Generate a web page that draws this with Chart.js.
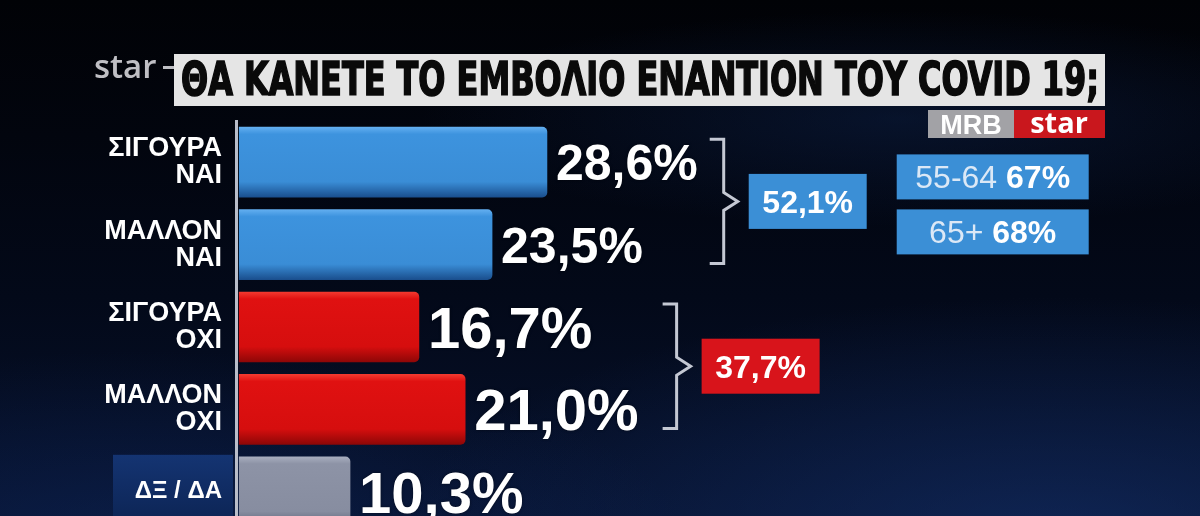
<!DOCTYPE html>
<html><head><meta charset="utf-8">
<script src="https://cdn.jsdelivr.net/npm/chart.js@4.4.1/dist/chart.umd.min.js"></script>
<style>
html,body{margin:0;padding:0;width:1200px;height:516px;overflow:hidden;background:#02040b;}
#wrap{position:relative;width:1200px;height:540px;
background:
 radial-gradient(ellipse 55% 45% at 88% 100%, rgba(22,52,115,0.55), rgba(0,0,0,0) 100%),
 radial-gradient(ellipse 45% 35% at 12% 100%, rgba(16,42,100,0.45), rgba(0,0,0,0) 100%),
 radial-gradient(ellipse 40% 20% at 75% 22%, rgba(14,36,80,0.45), rgba(0,0,0,0) 100%),
 linear-gradient(180deg, #010206 0%, #02050e 25%, #030919 55%, #071330 100%);}
canvas{display:block;}
</style></head>
<body><div id="wrap"><canvas id="c" width="1200" height="540"></canvas></div>
<script>
// ---- data ----
const title = 'ΘΑ ΚΑΝΕΤΕ ΤΟ ΕΜΒΟΛΙΟ ΕΝΑΝΤΙΟΝ ΤΟΥ COVID 19;';
const categories = [['ΣΙΓΟΥΡΑ','ΝΑΙ'], ['ΜΑΛΛΟΝ','ΝΑΙ'], ['ΣΙΓΟΥΡΑ','ΟΧΙ'], ['ΜΑΛΛΟΝ','ΟΧΙ'], 'ΔΞ / ΔΑ'];
const values = [28.6, 23.5, 16.7, 21.0, 10.3];
const groupMembers = [[0, 1], [2, 3]];
const groupTotals = [52.1, 37.7];
const ageLabels = ['55-64', '65+'];
const ageValues = [67, 68];

// ---- styles ----
const barKind = ['yes', 'yes', 'no', 'no', 'dk'];
const palettes = {
  yes: ['#62aef0', '#3d93de', '#3a8dd6', '#1a4f8e'],
  no:  ['#f2392f', '#e01111', '#d60e0e', '#8e0707'],
  dk:  ['#a8aebf', '#8d93a6', '#878da0', '#5a6075']
};
const groupBoxColor = ['#3b8fd6', '#d8141b'];
const labelSizes = [50, 50, 58, 58, 58];
const bracketGap = [26, 38];
const FONT = '"Liberation Sans", Arial, sans-serif';

function fmt(v){ return v.toFixed(1).replace('.', ',') + '%'; }

function barFill(c){
  const i = c.dataIndex;
  const pal = palettes[barKind[i]] || palettes.yes;
  const chart = c.chart, ys = chart.scales && chart.scales.y;
  if (i === undefined || !ys || !chart.chartArea) return pal[1];
  const mid = ys.getPixelForValue(i);
  const g = chart.ctx.createLinearGradient(0, mid - 35, 0, mid + 35);
  g.addColorStop(0, pal[0]); g.addColorStop(0.1, pal[1]);
  g.addColorStop(0.78, pal[2]); g.addColorStop(1, pal[3]);
  return g;
}

const decor = {
  id: 'decor',
  beforeDatasetsDraw(chart){
    const ctx = chart.ctx, ys = chart.scales.y;
    const last = values.length - 1;
    const m = ys.getPixelForValue(last);
    const g = ctx.createLinearGradient(0, m - 37, 0, m + 37);
    g.addColorStop(0, '#143472'); g.addColorStop(1, '#0c2352');
    ctx.save(); ctx.globalCompositeOperation = 'destination-over';
    ctx.fillStyle = g; ctx.fillRect(113, m - 37, 120, 80);
    ctx.restore();
  },
  afterDatasetsDraw(chart){
    const ctx = chart.ctx;
    const meta = chart.getDatasetMeta(0);
    const ends = [];
    ctx.save();
    meta.data.forEach((bar, i) => {
      const s = labelSizes[i];
      ctx.font = 'bold ' + s + 'px ' + FONT;
      ctx.fillStyle = '#ffffff'; ctx.textAlign = 'left'; ctx.textBaseline = 'alphabetic';
      ctx.shadowColor = 'rgba(0,0,0,0.5)'; ctx.shadowBlur = 3;
      const t = fmt(values[i]);
      ctx.fillText(t, bar.x + 9, bar.y + s * 0.358);
      ends[i] = bar.x + 9 + ctx.measureText(t).width;
    });
    ctx.shadowBlur = 0;
    let firstBoxRight = 0, firstApex = 0;
    groupMembers.forEach((mem, g) => {
      const b0 = meta.data[mem[0]], b1 = meta.data[mem[mem.length - 1]];
      const top = b0.y - b0.height / 2 + 12;
      const bot = b1.y + b1.height / 2 - 16;
      const x = Math.max(...mem.map(k => ends[k])) + bracketGap[g];
      const apex = (top + bot) / 2;
      ctx.strokeStyle = '#c4c8d3'; ctx.lineWidth = 3; ctx.lineJoin = 'miter';
      ctx.beginPath();
      ctx.moveTo(x - 14, top); ctx.lineTo(x, top); ctx.lineTo(x, apex - 9);
      ctx.lineTo(x + 14, apex); ctx.lineTo(x, apex + 9); ctx.lineTo(x, bot); ctx.lineTo(x - 14, bot);
      ctx.stroke();
      const bx = x + 25, bw = 118, bh = 55;
      ctx.fillStyle = groupBoxColor[g];
      ctx.fillRect(bx, apex - bh / 2, bw, bh);
      ctx.fillStyle = '#ffffff'; ctx.font = 'bold 32px ' + FONT; ctx.textAlign = 'center';
      ctx.fillText(fmt(groupTotals[g]), bx + bw / 2, apex + 11.5);
      if (g === 0){ firstBoxRight = bx + bw; firstApex = apex; }
    });
    ageLabels.forEach((lab, k) => {
      const ax = firstBoxRight + 30, aw = 192, ah = 45;
      const ay = k === 0 ? firstApex - 47 : firstApex + 8;
      ctx.fillStyle = '#3b8fd6'; ctx.fillRect(ax, ay, aw, ah);
      const t1 = lab + ' ', t2 = ageValues[k] + '%';
      ctx.font = '32px ' + FONT; const w1 = ctx.measureText(t1).width;
      ctx.font = 'bold 32px ' + FONT; const w2 = ctx.measureText(t2).width;
      let sx = ax + (aw - w1 - w2) / 2;
      ctx.textAlign = 'left';
      ctx.font = '32px ' + FONT; ctx.fillStyle = '#dbe8f6'; ctx.fillText(t1, sx, ay + ah / 2 + 11.5);
      ctx.font = 'bold 32px ' + FONT; ctx.fillStyle = '#ffffff'; ctx.fillText(t2, sx + w1, ay + ah / 2 + 11.5);
    });
    // title box
    ctx.fillStyle = '#e5e5e5'; ctx.fillRect(174, 54, 931, 52);
    ctx.fillStyle = '#0a0a0a'; ctx.strokeStyle = '#0a0a0a'; ctx.lineWidth = 1.6;
    ctx.font = 'bold 46px "Liberation Sans Narrow", "DejaVu Sans Condensed", ' + FONT;
    const tw = ctx.measureText(title).width;
    ctx.save(); ctx.translate(181, 95); ctx.scale(918 / tw, 1);
    ctx.textAlign = 'left'; ctx.fillText(title, 0, 0); ctx.strokeText(title, 0, 0); ctx.restore();
    // star logo
    ctx.fillStyle = '#bfbfc4'; ctx.font = '600 33px "Open Sans", ' + FONT; ctx.textAlign = 'left';
    ctx.fillText('star', 94, 78);
    ctx.fillRect(163, 66, 11, 3);
    // MRB star
    ctx.fillStyle = '#a2a2a6'; ctx.fillRect(928, 110, 86, 28);
    ctx.fillStyle = '#c9171d'; ctx.fillRect(1014, 110, 91, 28);
    ctx.fillStyle = '#ffffff'; ctx.textAlign = 'center';
    ctx.font = 'bold 27px ' + FONT; ctx.fillText('MRB', 971, 134);
    ctx.font = 'bold 29px "Open Sans", ' + FONT; ctx.fillText('star', 1059, 133);
    ctx.restore();
  }
};

new Chart(document.getElementById('c'), {
  type: 'bar',
  data: { labels: categories, datasets: [{
    data: values, backgroundColor: barFill, borderRadius: 5, borderSkipped: 'start', barThickness: 70
  }]},
  options: {
    indexAxis: 'y', responsive: false, maintainAspectRatio: false, animation: false,
    layout: { padding: { top: 121, bottom: 7, left: 0, right: 0 } },
    plugins: { legend: { display: false }, tooltip: { enabled: false } },
    scales: {
      x: { display: false, min: -0.3, max: 89.3 },
      y: {
        grid: { display: false, drawTicks: false },
        border: { display: true, color: '#b9bdc9', width: 3 },
        ticks: {
          color: '#ffffff', padding: 14,
          font: (c) => c.index === 4 ? { family: FONT, size: 24, weight: 'bold', lineHeight: 1 }
                                      : { family: FONT, size: 27, weight: 'bold', lineHeight: 1 }
        },
        afterFit: (s) => { s.width = 236; s.paddingTop = 0; s.paddingBottom = 0; }
      }
    }
  },
  plugins: [decor]
});
</script>
</body></html>
